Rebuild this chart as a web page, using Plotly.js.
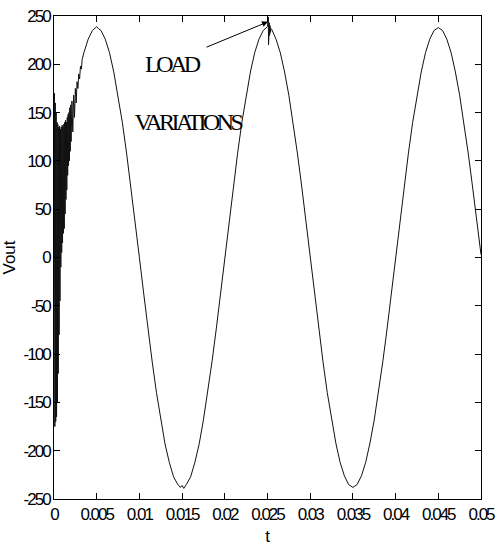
<!DOCTYPE html>
<html>
<head>
<meta charset="utf-8">
<script src="https://cdn.plot.ly/plotly-3.0.1.min.js"></script>
<style>
html,body{margin:0;padding:0;background:#fff;}
.xtick text,.ytick text{letter-spacing:-2px;}
.annotation-text-g text{letter-spacing:-3.5px;}
</style>
</head>
<body>
<div id="chart" style="width:497px;height:546px;"></div>
<script>
// start-up transient (t in s, Vout in V)
var tStart = [0,0.00005,0.0001,0.00015,0.0002,0.00025,0.0003,0.00035,0.0004,0.00045,0.0005,0.00055,0.0006,0.00065,0.0007,0.00075,0.0008,0.00085,0.0009,0.00095,0.001,0.00105,0.0011,0.00115,0.0012,0.00125,0.0013,0.00135,0.0014,0.00145,0.0015,0.00155,0.0016,0.00165,0.0017,0.00175,0.0018,0.00185,0.0019,0.00195,0.002,0.0021,0.0022,0.0023,0.0024,0.0025,0.0026,0.0027,0.0028,0.0029,0.003,0.0031,0.0032,0.0033];
var vStart = [0,170,-175,160,-170,150,-165,140,-150,138,-120,135,-80,136,-45,133,-10,135,5,137,15,135,25,138,30,140,45,142,60,140,70,145,85,148,95,150,100,155,110,158,120,162,130,168,145,175,160,182,175,190,185,198,195,205];
// steady-state wave
var tWave = [0.0035,0.004,0.0045,0.0048,0.005,0.0052,0.0055,0.006,0.0065,0.007,0.0075,0.008,0.0085,0.009,0.0095,0.01,0.0105,0.011,0.0115,0.012,0.0125,0.013,0.0135,0.014,0.0145,0.0148,0.015,0.0152,0.0155,0.016,0.0165,0.017,0.0175,0.018,0.0185,0.019,0.0195,0.02,0.0205,0.021,0.0215,0.022,0.0225,0.023,0.0235,0.024,0.0245,0.0256,0.026,0.0265,0.027,0.0275,0.028,0.0285,0.029,0.0295,0.03,0.0305,0.031,0.0315,0.032,0.0325,0.033,0.0335,0.034,0.0345,0.035,0.0355,0.036,0.0365,0.037,0.0375,0.038,0.0385,0.039,0.0395,0.04,0.0405,0.041,0.0415,0.042,0.0425,0.043,0.0435,0.044,0.0445,0.045,0.0455,0.046,0.0465,0.047,0.0475,0.048,0.0485,0.049,0.0495,0.05];
var vWave = [212,226,235,237,239,237,235,226,212,192,168,140,108,74,37,0,-37,-74,-108,-140,-168,-193,-212,-227,-235,-238,-236,-239,-235,-227,-212,-193,-168,-140,-108,-74,-37,0,37,74,108,140,168,192,212,226,235,234,226,212,192,168,140,108,74,37,0,-37,-74,-108,-140,-168,-192,-212,-226,-235,-238,-235,-226,-212,-192,-168,-140,-108,-74,-37,0,37,74,108,140,168,192,212,226,235,238,235,226,212,192,168,140,108,74,37,3];
// load variations around the second peak
var tLoad = [0.0249,0.025,0.0251,0.02512,0.02515,0.02518,0.0252,0.02525,0.0253,0.02535,0.0254,0.0255];
var vLoad = [238,239,249,220,247,232,243,230,240,233,237,236];

var xTickVals = [0,0.005,0.01,0.015,0.02,0.025,0.03,0.035,0.04,0.045,0.05];
var xTickText = ['0','0.005','0.01','0.015','0.02','0.025','0.03','0.035','0.04','0.045','0.05'];
var yTickVals = [-250,-200,-150,-100,-50,0,50,100,150,200,250];
var yTickText = ['-250','-200','-150','-100','-50','0','50','100','150','200','250'];

var pts = [];
function addPts(ts, vs){ for (var i=0;i<ts.length;i++) pts.push([ts[i], vs[i]]); }
addPts(tStart, vStart); addPts(tWave, vWave); addPts(tLoad, vLoad);
pts.sort(function(a,b){return a[0]-b[0];});

var trace = {
  x: pts.map(function(p){return p[0];}),
  y: pts.map(function(p){return p[1];}),
  type: 'scatter', mode: 'lines',
  line: {color: '#111', width: 1},
  hoverinfo: 'none'
};

var axisCommon = {
  showline: true, linecolor: '#000', linewidth: 1, mirror: 'allticks',
  ticks: 'inside', ticklen: 6, tickcolor: '#000', tickwidth: 1,
  showgrid: false, zeroline: false,
  tickfont: {family: 'Liberation Sans, Arial, sans-serif', size: 17, color: '#000'}
};

var layout = {
  width: 497, height: 546,
  margin: {l: 54, r: 16, t: 16, b: 47},
  paper_bgcolor: '#fff', plot_bgcolor: '#fff',
  showlegend: false,
  xaxis: Object.assign({}, axisCommon, {
    range: [0, 0.05], tickmode: 'array', tickvals: xTickVals, ticktext: xTickText,
    title: {text: 't', font: {family: 'Liberation Sans, Arial, sans-serif', size: 17, color: '#000'}, standoff: 6}
  }),
  yaxis: Object.assign({}, axisCommon, {
    range: [-250, 250], tickmode: 'array', tickvals: yTickVals, ticktext: yTickText,
    title: {text: 'Vout', font: {family: 'Liberation Sans, Arial, sans-serif', size: 17, color: '#000'}, standoff: 4}
  }),
  annotations: [
    {x: 0.0137, y: 200, xref: 'x', yref: 'y', text: 'LOAD', showarrow: false,
     font: {family: 'Liberation Serif, Times New Roman, serif', size: 24, color: '#000'}},
    {x: 0.0156, y: 140, xref: 'x', yref: 'y', text: 'VARIATIONS', showarrow: false,
     font: {family: 'Liberation Serif, Times New Roman, serif', size: 24, color: '#000'}},
    {x: 0.02506, y: 244, xref: 'x', yref: 'y', text: '', showarrow: true,
     ax: -63, ay: 26, arrowhead: 2, arrowsize: 1.2, arrowwidth: 1, arrowcolor: '#000'}
  ]
};

Plotly.newPlot('chart', [trace], layout, {displayModeBar: false, staticPlot: true});
</script>
</body>
</html>
